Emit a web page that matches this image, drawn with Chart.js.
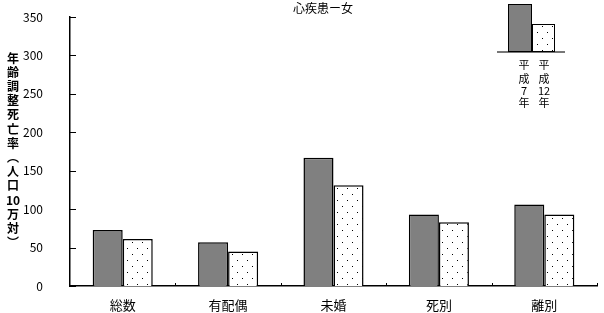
<!DOCTYPE html>
<html>
<head>
<meta charset="utf-8">
<script src="https://cdn.jsdelivr.net/npm/chart.js@4"></script>
<style>
html, body { margin: 0; padding: 0; background: #fff; }
#wrap { width: 604px; height: 313px; }
</style>
</head>
<body>
<div id="wrap"><canvas id="heartChart" width="604" height="313"></canvas></div>
<script>
// data
const categories = ["総数", "有配偶", "未婚", "死別", "離別"];
const seriesNames = ["平成7年", "平成12年"];
const h7Values = [73, 57, 167, 93, 106];
const h12Values = [61, 45, 131, 83, 93];
const yMax = 350;
const yStep = 50;
const chartTitle = "心疾患ー女";
const yTitleParts = ["年", "齢", "調", "整", "死", "亡", "率", "︵", "人", "口", "10", "万", "対", "︶"];

const FONT = "'Noto Sans CJK JP', 'Noto Sans', sans-serif";

function dotPattern() {
    const c = document.createElement("canvas");
    c.width = 10; c.height = 12;
    const g = c.getContext("2d");
    g.fillStyle = "#fff";
    g.fillRect(0, 0, 10, 12);
    g.fillStyle = "#000";
    g.fillRect(2, 2, 1, 1);
    g.fillRect(7, 8, 1, 1);
    return g.createPattern(c, "repeat");
}

const extras = {
    id: "extras",
    afterDraw(chart) {
        const ctx = chart.ctx;
        const x = chart.scales.x, y = chart.scales.y;
        ctx.save();
        ctx.fillStyle = "#000";
        ctx.textAlign = "center";
        ctx.textBaseline = "middle";

        // title
        ctx.font = "12px " + FONT;
        ctx.fillText(chartTitle, 323, 8);

        // y axis title, vertical
        ctx.font = "bold 12px " + FONT;
        yTitleParts.forEach(function(ch, i) {
            ctx.fillText(ch, 13, 58 + i * 14.2);
        });

        // inward tick marks
        ctx.strokeStyle = "#000";
        ctx.lineWidth = 1;
        ctx.beginPath();
        y.ticks.forEach(function(t) {
            const py = Math.round(y.getPixelForValue(t.value)) + 0.5;
            ctx.moveTo(x.left, py);
            ctx.lineTo(x.left + 6, py);
        });
        for (let i = 1; i <= categories.length; i++) {
            const px = Math.round(x.left + (x.right - x.left) * i / categories.length) + 0.5;
            ctx.moveTo(px, y.bottom);
            ctx.lineTo(px, y.bottom - 3);
        }
        ctx.stroke();

        // legend drawn as a small bar pair
        const ds = chart.data.datasets;
        ctx.strokeStyle = "#777";
        ctx.lineWidth = 2;
        ctx.beginPath();
        ctx.moveTo(497, 52);
        ctx.lineTo(565, 52);
        ctx.stroke();
        ctx.lineWidth = 1;
        ctx.strokeStyle = "#000";
        ctx.fillStyle = ds[0].backgroundColor;
        ctx.fillRect(508, 4, 24, 48);
        ctx.strokeRect(508.5, 4.5, 23, 47);
        ctx.fillStyle = ds[1].backgroundColor;
        ctx.fillRect(532, 24, 23, 28);
        ctx.strokeRect(532.5, 24.5, 22, 27);

        ctx.fillStyle = "#000";
        ctx.font = "11px " + FONT;
        const cols = [524, 544];
        const rows = [65, 79, 91, 103];
        seriesNames.forEach(function(name, si) {
            name.match(/\d+|./g).forEach(function(part, ri) {
                ctx.fillText(part, cols[si], rows[ri]);
            });
        });
        ctx.restore();
    }
};

new Chart(document.getElementById("heartChart").getContext("2d"), {
    type: "bar",
    data: {
        labels: categories,
        datasets: [{
            label: seriesNames[0],
            data: h7Values,
            backgroundColor: "#808080",
            borderColor: "#000",
            borderWidth: 1.5
        }, {
            label: seriesNames[1],
            data: h12Values,
            backgroundColor: dotPattern(),
            borderColor: "#000",
            borderWidth: 1.5
        }]
    },
    options: {
        responsive: false,
        animation: false,
        datasets: { bar: { barPercentage: 1, categoryPercentage: 0.57 } },
        layout: { padding: { top: 17, right: 7, left: 0, bottom: 0 } },
        plugins: { legend: { display: false }, tooltip: { enabled: false } },
        scales: {
            x: {
                grid: { display: false },
                border: { color: "#000", width: 1.5 },
                ticks: { color: "#000", padding: 3, font: { family: FONT, size: 13 } },
                afterFit: function(s) { s.height = 27; }
            },
            y: {
                min: 0,
                max: yMax,
                grid: { display: false },
                border: { color: "#000", width: 1.5 },
                ticks: { stepSize: yStep, color: "#000", padding: 19, font: { family: FONT, size: 12 } },
                afterFit: function(s) {
                    s.width = 70;
                    s.paddingTop = 0;
                    s.paddingBottom = 0;
                }
            }
        }
    },
    plugins: [extras]
});
</script>
</body>
</html>
